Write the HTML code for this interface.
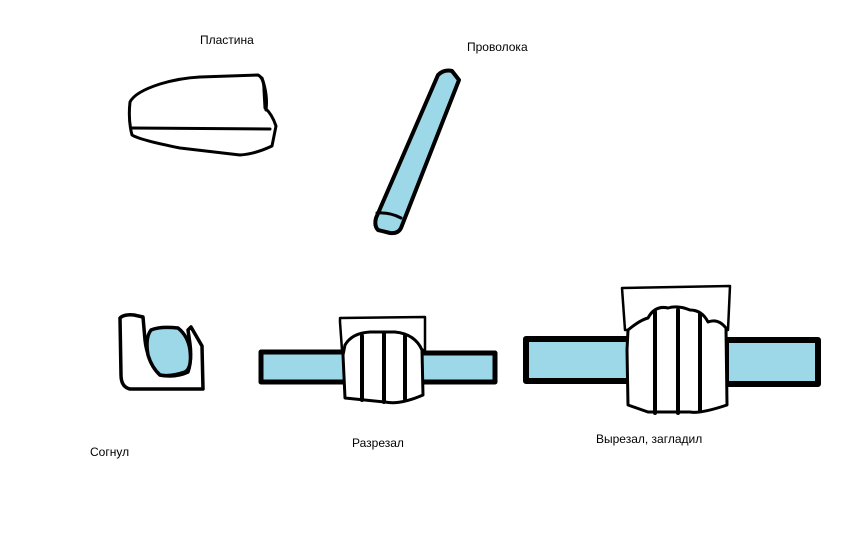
<!DOCTYPE html>
<html><head><meta charset="utf-8"><style>
html,body{margin:0;padding:0;background:#fff;width:864px;height:540px;overflow:hidden}
svg{display:block}
text{font-family:"Liberation Sans",sans-serif;font-size:12px;fill:#000}
</style></head><body>
<svg width="864" height="540" viewBox="0 0 864 540" xmlns="http://www.w3.org/2000/svg">
<g fill="none" stroke="#000" stroke-width="3" stroke-linejoin="round" stroke-linecap="round">
<!-- plate -->
<path d="M130,102 Q135,92 160,84 Q180,78 200,77 L258,75 Q264,78 264,90 L265,108 Q272,114 276,126 L272,146 Q255,154 240,155 L180,148 Q140,140 132,135 Q128,120 130,102 Z" fill="#fff"/>
<path d="M131,128 L270,129"/>
<path d="M262,78 Q268,95 266,110"/>
<!-- wire -->
<path d="M438,75 Q444,69 452,71 L459,80 L401,228 Q398,234 390,233 L378,230 Q374,226 376,218 Z" fill="#9dd8e8" stroke-width="4"/>
<path d="M377,213 Q390,212 401,218" stroke-width="3"/>
<!-- bent -->
<path d="M120,318 Q124,314 134,315 L143,317 Q144,328 145,340 Q147,360 160,375 Q175,378 188,372 Q192,360 190,344 L188,330 L191,327 L202,346 L203,389 L130,389 Q121,387 121,375 Z" fill="#fff" stroke-width="3.5"/>
<path d="M151,330 Q160,326 178,328 Q188,336 190,350 Q192,368 185,372 Q170,377 160,375 Q152,368 148,355 Q145,338 151,330 Z" fill="#9dd8e8" stroke-width="3.5"/>
<!-- razrezal -->
<rect x="261" y="352" width="86" height="30" fill="#9dd8e8" stroke-width="5"/>
<rect x="420" y="353" width="75" height="29" fill="#9dd8e8" stroke-width="5"/>
<path d="M340,322 L340,318 L425,317 L425,350 L342,350 Z" fill="#fff" stroke-width="2.5"/>
<path d="M345,345 Q352,333 370,332 L395,332 Q415,334 422,350 L423,395 Q400,405 385,402 L345,398 L343,355 Z" fill="#fff" stroke-width="3"/>
<path d="M362,336 L362,400 M384,333 L384,402 M405,336 L405,399" stroke-width="4"/>
<!-- third -->
<rect x="526" y="339" width="104" height="42" fill="#9dd8e8" stroke-width="6"/>
<rect x="726" y="340" width="92" height="44" fill="#9dd8e8" stroke-width="6"/>
<path d="M622,288 L730,286 L728,330 L625,330 Z" fill="#fff" stroke-width="2.5"/>
<path d="M628,330 Q640,320 648,318 Q655,305 668,308 Q678,305 690,310 Q702,310 708,322 Q718,318 726,328 L727,405 Q700,414 690,412 L648,412 L628,405 L627,350 Z" fill="#fff" stroke-width="3"/>
<path d="M655,312 L655,413 M678,310 L678,413 M700,314 L700,411" stroke-width="4"/>
</g>
<text x="200" y="44">Пластина</text>
<text x="467" y="51">Проволока</text>
<text x="90" y="456">Согнул</text>
<text x="352" y="447">Разрезал</text>
<text x="596" y="443">Вырезал, загладил</text>
</svg>
</body></html>
